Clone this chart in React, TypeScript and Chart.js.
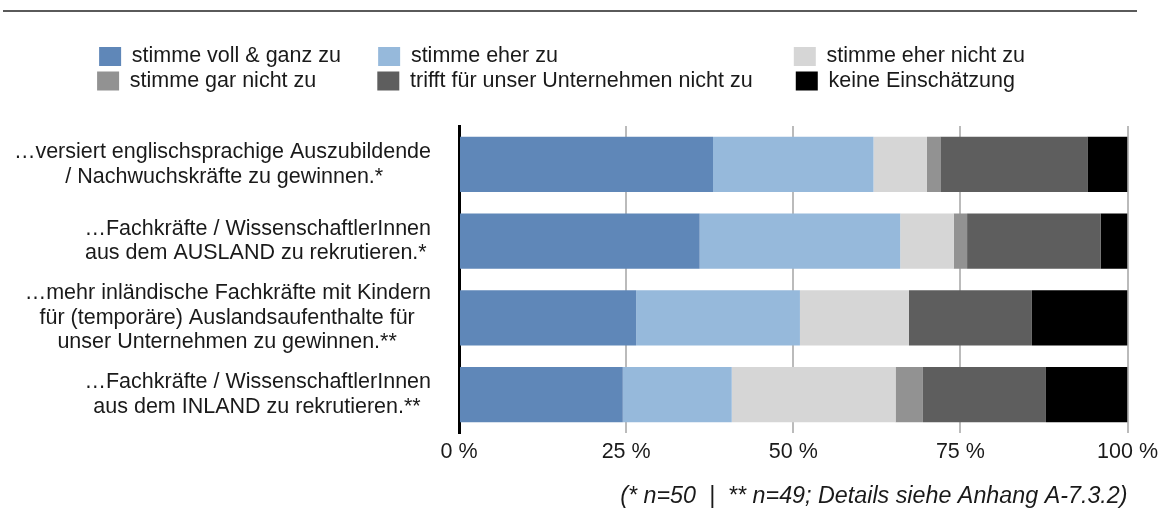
import React, { useEffect, useRef } from 'react';
import { Chart, registerables } from 'chart.js';

Chart.register(...registerables);

// ---------- data ----------
const categories: string[][] = [
  ['…versiert englischsprachige Auszubildende', '/ Nachwuchskräfte zu gewinnen.*'],
  ['…Fachkräfte / WissenschaftlerInnen', 'aus dem AUSLAND zu rekrutieren.*'],
  ['…mehr inländische Fachkräfte mit Kindern', 'für (temporäre) Auslandsaufenthalte für', 'unser Unternehmen zu gewinnen.**'],
  ['…Fachkräfte / WissenschaftlerInnen', 'aus dem INLAND zu rekrutieren.**'],
];

const stimmeVollGanz = [38, 36, 26.5, 24.5];
const stimmeEher = [24, 30, 24.5, 16.3];
const stimmeEherNicht = [8, 8, 16.3, 24.5];
const stimmeGarNicht = [2, 2, 0, 4.1];
const trifftNichtZu = [22, 20, 18.4, 18.4];
const keineEinschaetzung = [6, 4, 14.3, 12.2];

const seriesLabels = [
  'stimme voll & ganz zu',
  'stimme eher zu',
  'stimme eher nicht zu',
  'stimme gar nicht zu',
  'trifft für unser Unternehmen nicht zu',
  'keine Einschätzung',
];
const seriesValues = [stimmeVollGanz, stimmeEher, stimmeEherNicht, stimmeGarNicht, trifftNichtZu, keineEinschaetzung];
const seriesColors = ['#5F87B8', '#96B9DB', '#D6D6D6', '#929292', '#5E5E5E', '#000000'];

const xTickSuffix = ' %';
const footnote = '(* n=50  |  ** n=49; Details siehe Anhang A-7.3.2)';

// ---------- styling ----------
const FONT_FAMILY = '"Liberation Sans", Arial, Helvetica, sans-serif';
const FONT_SIZE = 21.5;
const TEXT_COLOR = '#1a1a1a';
const LEGEND_TEXT_WIDTHS = [244, 381, 206];

export default function App() {
  const ref = useRef<HTMLCanvasElement>(null);

  useEffect(() => {
    const canvas = ref.current;
    if (!canvas) return;

    const mctx = document.createElement('canvas').getContext('2d')!;
    const tw = (t: string, size: number) => {
      mctx.font = `${size}px ${FONT_FAMILY}`;
      return mctx.measureText(t).width;
    };
    const padEnd = (text: string, target: number, size: number) => {
      let s = text;
      const sp = tw(' ', size);
      const thin = tw('\u2009', size);
      let w = tw(s, size);
      while (w + sp <= target + 0.5) {
        s += ' ';
        w = tw(s, size);
      }
      if (thin > 0.5) {
        while (w + thin <= target + thin / 2) {
          s += '\u2009';
          w = tw(s, size);
        }
      }
      return s;
    };

    // centre the lines of each multi-line label inside its right-aligned block
    const yLabelLines = categories.map((lines) => {
      const widths = lines.map((l) => tw(l, FONT_SIZE));
      const maxW = Math.max(...widths);
      return lines.map((l, i) => padEnd(l, widths[i] + (maxW - widths[i]) / 2, FONT_SIZE));
    });

    const legendSpacer = {
      id: 'legendSpacer',
      beforeLayout(chart: any) {
        const lg = chart.legend;
        if (lg && !lg.__patched) {
          const orig = lg.fit;
          lg.fit = function () {
            orig.call(this);
            this.height += 24.25;
          };
          lg.__patched = true;
        }
      },
    };

    const chart = new Chart(canvas, {
      type: 'bar',
      data: {
        labels: categories,
        datasets: seriesLabels.map((label, i) => ({
          label,
          data: seriesValues[i],
          backgroundColor: seriesColors[i],
          borderWidth: 0,
          categoryPercentage: 1,
          barPercentage: 0.72,
        })),
      },
      options: {
        indexAxis: 'y',
        responsive: true,
        maintainAspectRatio: false,
        animation: false,
        layout: { padding: { top: 42.75, right: 34, bottom: 0, left: 0 } },
        plugins: {
          legend: {
            position: 'top',
            align: 'center',
            labels: {
              boxWidth: 22,
              boxHeight: 19,
              padding: 3,
              color: TEXT_COLOR,
              font: { family: FONT_FAMILY, size: FONT_SIZE },
              generateLabels: (c: any) => {
                const items = (Chart.defaults.plugins.legend.labels as any).generateLabels(c);
                items.forEach((it: any, i: number) => {
                  it.text = padEnd(it.text, LEGEND_TEXT_WIDTHS[i % 3], FONT_SIZE);
                  it.lineWidth = 0;
                });
                return items;
              },
            },
          },
          tooltip: { enabled: false },
        },
        scales: {
          x: {
            stacked: true,
            min: 0,
            max: 100,
            ticks: {
              stepSize: 25,
              padding: 6,
              maxRotation: 0,
              color: TEXT_COLOR,
              font: { family: FONT_FAMILY, size: FONT_SIZE, lineHeight: 1.2 },
              callback: (v: any) => `${v}${xTickSuffix}`,
            },
            grid: { color: '#BBBBBB', lineWidth: 2, drawTicks: false },
            border: { display: false },
            title: {
              display: true,
              text: footnote,
              align: 'end',
              color: TEXT_COLOR,
              font: { family: FONT_FAMILY, size: 23.3, style: 'italic', lineHeight: 1.2 },
              padding: { top: 19, bottom: 1 },
            },
            afterFit: (scale: any) => {
              scale.height = 79;
            },
          },
          y: {
            stacked: true,
            grid: { display: false, drawTicks: false },
            border: { display: true, color: '#000000', width: 3 },
            ticks: {
              autoSkip: false,
              padding: 28,
              color: TEXT_COLOR,
              font: { family: FONT_FAMILY, size: FONT_SIZE, lineHeight: 1.14 },
              callback: (_v: any, i: number) => yLabelLines[i],
            },
            afterFit: (scale: any) => {
              scale.width = 459;
            },
          },
        },
      } as any,
      plugins: [legendSpacer],
    });

    return () => chart.destroy();
  }, []);

  return (
    <div style={{ position: 'absolute', left: 0, top: 0, width: 1164, height: 512, background: '#ffffff' }}>
      <div style={{ position: 'absolute', left: 3, top: 10, width: 1134, height: 2, background: '#5a5a5a' }} />
      <canvas ref={ref} />
    </div>
  );
}
